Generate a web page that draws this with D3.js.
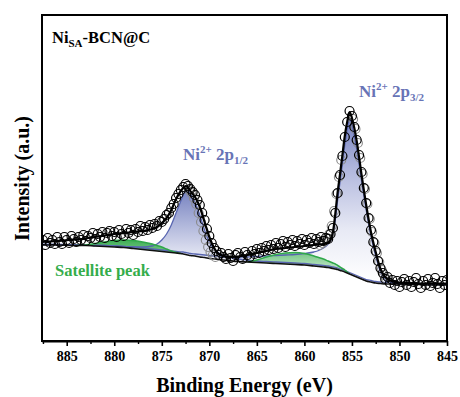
<!DOCTYPE html>
<html>
<head>
<meta charset="utf-8">
<script src="https://cdn.jsdelivr.net/npm/d3@7"></script>
<style>
  body { margin: 0; background: #fff; }
  svg text { font-family: "Liberation Serif", "Times New Roman", "DejaVu Serif", serif; font-weight: bold; }
</style>
</head>
<body>
<svg id="xps" width="460" height="397"></svg>
<script>
// fitted curves (binding energy in eV, intensity in a.u.)
var energy = [887.6, 886, 884, 883, 882, 881, 880, 879, 878, 877,
  876, 875.5, 875, 874.5, 874, 873.5, 873, 872.75, 872.5, 872.25,
  872, 871.5, 871, 870.5, 870, 869.5, 869, 868, 867, 866,
  865, 864, 863, 862, 861, 860, 859, 858.5, 858, 857.5,
  857, 856.75, 856.5, 856.25, 856, 855.75, 855.5, 855.25, 855, 854.75,
  854.5, 854.25, 854, 853.75, 853.5, 853, 852.5, 852, 851.5, 851,
  850, 849, 848, 847, 846, 845];
var background = [96, 96, 95.5, 95.5, 95, 94.5, 94, 93.5, 92.5, 91.5,
  90.5, 90, 89.5, 89, 88.5, 88, 87.5, 87, 86.5, 86,
  85.5, 85, 84, 83.5, 82.5, 82, 81.5, 80.5, 79.5, 79,
  78.5, 78, 77.5, 77, 76.5, 76, 75, 74.5, 74, 73.5,
  72.5, 72, 71.5, 70.5, 70, 69, 68, 67, 66, 65,
  64, 63, 62, 61, 60, 59, 58, 57.5, 57, 57,
  57, 56.5, 56.5, 56, 56, 56];
var envelope = [99, 100, 101.5, 102.5, 104, 105.5, 107, 108, 109, 110,
  112, 114, 118, 123, 131, 142, 150, 153, 155, 154,
  150, 144, 134, 119, 104, 93, 87, 84, 84.5, 86,
  88, 90, 92, 93, 94, 95, 96, 96.5, 97, 98,
  109, 127, 149, 167, 186, 205, 219, 229, 223, 213,
  200, 184, 167, 151, 136, 109, 89, 72, 64, 60.5,
  58.5, 58, 57.5, 57.5, 57.5, 57.5];
var ni2p12 = [96.5, 96.5, 96, 96, 95.5, 95.5, 95, 94.5, 94, 94,
  95, 97, 101, 107, 116, 128, 140, 146, 150, 150,
  147, 139, 126, 111, 99, 92, 88, 84, 82, 81,
  80, 79.5, 79, 78.5, 78, 77.5, 76.5, 76, 75.5, 75,
  74, 73.5, 73, 72, 71.5, 70.5, 69.5, 68.5, 67.5, 66.5,
  65.5, 64.5, 63.5, 62.5, 61.5, 60.5, 59.5, 59, 58.5, 58.5,
  58, 57.5, 57.5, 57, 57, 57];
var ni2p32 = [96.5, 96.5, 96, 96, 95.5, 95.5, 95, 94.5, 94, 93,
  92, 91.5, 91, 90.5, 90, 89.5, 89, 89, 88.5, 88,
  87.5, 87, 86.5, 86, 85.5, 85, 84.5, 84, 84, 84,
  84.5, 85, 85.5, 86, 86.5, 87.5, 89, 90.5, 93, 97,
  106, 121, 141, 159, 177, 196, 211, 221, 216, 205,
  192, 177, 161, 146, 131, 105, 85, 69, 61, 58.5,
  57.5, 57, 57, 56.5, 56.5, 56.5];
var sat1E = [884, 883, 882, 881, 880, 879, 878, 877, 876, 875.5, 875, 874.5, 874, 873.5, 873];
var sat1 = [95.5, 96, 97.5, 99, 100.5, 101, 100.5, 99, 97, 95.5, 94, 92, 90, 88.5, 87.5];
var sat2E = [866, 865, 864, 863, 862, 861, 860, 859, 858.5, 858, 857.5, 857, 856.75, 856.5, 856.25, 856, 855.75, 855.5, 855.25];
var sat2 = [79, 81, 84, 86.5, 88, 88.5, 87.5, 85, 83.5, 82, 80, 78, 77, 75.5, 74, 72.5, 71, 69, 67];

// measured spectrum, 0.25 eV steps from 887.5 eV down to 845 eV
var scanStart = 887.5, scanStep = 0.25;
var counts = [101, 96, 103, 98, 101, 97, 104, 99, 97, 104,
  101, 98, 105, 102, 99, 104, 101, 106, 100, 105,
  103, 108, 102, 107, 104, 109, 103, 108, 110, 105,
  109, 104, 111, 107, 105, 112, 108, 111, 106, 112,
  109, 115, 110, 114, 111, 116, 113, 117, 115, 120,
  119, 122, 126, 128, 133, 137, 143, 147, 151, 154,
  157, 155, 152, 149, 146, 141, 136, 128, 121, 112,
  105, 98, 93, 90, 86, 88, 84, 82, 87, 83,
  80, 86, 88, 84, 82, 89, 86, 84, 90, 87,
  92, 88, 93, 90, 95, 91, 96, 92, 98, 93,
  97, 100, 94, 99, 96, 101, 95, 100, 97, 102,
  96, 101, 98, 103, 97, 102, 99, 104, 100, 103,
  102, 107, 113, 128, 148, 166, 185, 204, 219, 230,
  225, 214, 201, 186, 169, 153, 138, 123, 111, 99,
  90, 80, 73, 68, 62, 64, 58, 61, 56, 60,
  54, 59, 62, 56, 60, 54, 59, 63, 57, 53,
  60, 56, 62, 55, 58, 63, 57, 53, 60, 56, 61];

// second (grey) scan trace around the peaks
var greyE = [872.125, 871.875, 871.625, 871.375, 871.125, 870.875, 870.625, 870.375, 870.125, 869.875, 869.625, 869.375,
  858.375, 858.125, 857.875, 857.625, 857.375, 857.125, 856.875, 856.625, 856.375, 856.125,
  854.875, 854.625, 854.375, 854.125, 853.875, 853.625, 853.375, 853.125, 852.875, 852.625,
  852.375, 852.125, 851.875, 851.625, 851.375];
var greyI = [151, 148, 143, 137, 128, 119, 110, 101, 94, 89, 86, 84,
  96, 98, 100, 103, 107, 115, 130, 147, 164, 181,
  222, 212, 198, 183, 167, 152, 137, 122, 109, 98,
  88, 79, 71, 66, 62];

var majorTicks = [885, 880, 875, 870, 865, 860, 855, 850, 845];
var minorTicks = [887.5, 882.5, 877.5, 872.5, 867.5, 862.5, 857.5, 852.5, 847.5];

var svg = d3.select("#xps");
var margin = {left: 42, right: 13, top: 15, bottom: 55};
var W = 460, H = 397;

var x = d3.scaleLinear().domain([887.6, 845]).range([margin.left, W - margin.right]);
var y = d3.scaleLinear().domain([0, 326]).range([H - margin.bottom - 1, margin.top]);

var bgAt = new Map(energy.map(function(e, i) { return [e, background[i]]; }));

var defs = svg.append("defs");
function vgrad(id, y1, y2, stops) {
  var g = defs.append("linearGradient").attr("id", id)
    .attr("gradientUnits", "userSpaceOnUse")
    .attr("x1", 0).attr("x2", 0).attr("y1", y1).attr("y2", y2);
  stops.forEach(function(s) {
    g.append("stop").attr("offset", s[0]).attr("stop-color", s[1]);
  });
}
vgrad("g32", y(229), y(60), [[0, "#6f7bbd"], [0.35, "#b3b9de"], [0.7, "#e8eaf5"], [1, "#ffffff"]]);
vgrad("g12", y(152), y(84), [[0, "#7480bf"], [1, "#e6e8f4"]]);
vgrad("gsat", y(101), y(67), [[0, "#3fae55"], [1, "#d5efd9"]]);

svg.append("clipPath").attr("id", "plotclip").append("rect")
  .attr("x", margin.left).attr("y", margin.top)
  .attr("width", W - margin.left - margin.right)
  .attr("height", H - margin.top - margin.bottom);

var plot = svg.append("g").attr("clip-path", "url(#plotclip)");

var curve = d3.curveMonotoneX;
function areaFor(vals) {
  return d3.area().curve(curve)
    .x(function(d, i) { return x(energy[i]); })
    .y0(function(d, i) { return y(background[i]); })
    .y1(function(d) { return y(d); })(vals);
}
function lineFor(es, vals) {
  return d3.line().curve(curve)
    .x(function(d, i) { return x(es[i]); })
    .y(function(d) { return y(d); })(vals);
}
function satArea(es, vals) {
  return d3.area().curve(curve)
    .x(function(d, i) { return x(es[i]); })
    .y0(function(d, i) { return y(bgAt.get(es[i])); })
    .y1(function(d) { return y(d); })(vals);
}

// component fills
plot.append("path").attr("d", areaFor(ni2p32)).attr("fill", "url(#g32)");
plot.append("path").attr("d", areaFor(ni2p12)).attr("fill", "url(#g12)");
plot.append("path").attr("d", satArea(sat1E, sat1)).attr("fill", "url(#gsat)");
plot.append("path").attr("d", satArea(sat2E, sat2)).attr("fill", "url(#gsat)");

// component lines
plot.append("path").attr("d", lineFor(energy, ni2p12))
  .attr("fill", "none").attr("stroke", "#5865b0").attr("stroke-width", 1.3);
plot.append("path").attr("d", lineFor(energy, ni2p32))
  .attr("fill", "none").attr("stroke", "#5865b0").attr("stroke-width", 1.3);
plot.append("path").attr("d", lineFor(sat1E, sat1))
  .attr("fill", "none").attr("stroke", "#2fa84a").attr("stroke-width", 1.5);
plot.append("path").attr("d", lineFor(sat2E, sat2))
  .attr("fill", "none").attr("stroke", "#2fa84a").attr("stroke-width", 1.5);
plot.append("path").attr("d", lineFor(energy, background))
  .attr("fill", "none").attr("stroke", "#111").attr("stroke-width", 1.6);

// raw data
plot.selectAll("circle.grey")
  .data(greyI)
  .enter().append("circle")
  .attr("class", "grey")
  .attr("cx", function(d, i) { return x(greyE[i]); })
  .attr("cy", function(d) { return y(d); })
  .attr("r", 4.5)
  .attr("fill", "none").attr("stroke", "#8a8a8a").attr("stroke-width", 1.1);

plot.selectAll("circle.pt")
  .data(counts)
  .enter().append("circle")
  .attr("class", "pt")
  .attr("cx", function(d, i) { return x(scanStart - i * scanStep); })
  .attr("cy", function(d) { return y(d); })
  .attr("r", 4.5)
  .attr("fill", "none").attr("stroke", "#000").attr("stroke-width", 1.2);

plot.append("path").attr("d", lineFor(energy, envelope))
  .attr("fill", "none").attr("stroke", "#000").attr("stroke-width", 2.2);

// frame and axis
svg.append("rect")
  .attr("x", margin.left).attr("y", margin.top)
  .attr("width", W - margin.left - margin.right)
  .attr("height", H - margin.top - margin.bottom - 1)
  .attr("fill", "none").attr("stroke", "#000").attr("stroke-width", 2);

var xAxis = svg.append("g")
  .attr("transform", "translate(0," + (H - margin.bottom - 1) + ")")
  .call(d3.axisBottom(x).tickValues(majorTicks).tickSize(5).tickSizeOuter(0)
    .tickFormat(d3.format("d")));
xAxis.select(".domain").attr("stroke-width", 2);
xAxis.selectAll(".tick line").attr("stroke-width", 1.6);
xAxis.selectAll("text")
  .attr("y", 10)
  .style("font-size", "14px")
  .attr("fill", "#000");

var minor = svg.append("g")
  .attr("transform", "translate(0," + (H - margin.bottom - 1) + ")")
  .call(d3.axisBottom(x).tickValues(minorTicks).tickSize(3).tickSizeOuter(0).tickFormat(""));
minor.select(".domain").remove();
minor.selectAll(".tick line").attr("stroke-width", 1.4);

svg.append("text")
  .attr("x", (margin.left + W - margin.right) / 2)
  .attr("y", 392)
  .attr("text-anchor", "middle")
  .style("font-size", "20px")
  .text("Binding Energy (eV)");

svg.append("text")
  .attr("transform", "translate(29," + ((margin.top + H - margin.bottom) / 2) + ") rotate(-90)")
  .attr("text-anchor", "middle")
  .style("font-size", "20px")
  .text("Intensity (a.u.)");

// labels
var title = svg.append("text").attr("x", 52).attr("y", 43).style("font-size", "16.5px");
title.append("tspan").text("Ni");
title.append("tspan").attr("dy", 4).style("font-size", "11px").text("SA");
title.append("tspan").attr("dy", -4).text("-BCN@C");

function peakLabel(px, py, sub) {
  var t = svg.append("text").attr("x", px).attr("y", py)
    .attr("fill", "#6874b6").style("font-size", "17px");
  t.append("tspan").text("Ni");
  t.append("tspan").attr("dy", -7).style("font-size", "11px").text("2+");
  t.append("tspan").attr("dy", 7).text(" 2p");
  t.append("tspan").attr("dy", 4).style("font-size", "11px").text(sub);
}
peakLabel(183, 160, "1/2");
peakLabel(359, 97, "3/2");

svg.append("text").attr("x", 55).attr("y", 276)
  .attr("fill", "#35ad4b").style("font-size", "16.5px")
  .text("Satellite peak");
</script>
</body>
</html>
